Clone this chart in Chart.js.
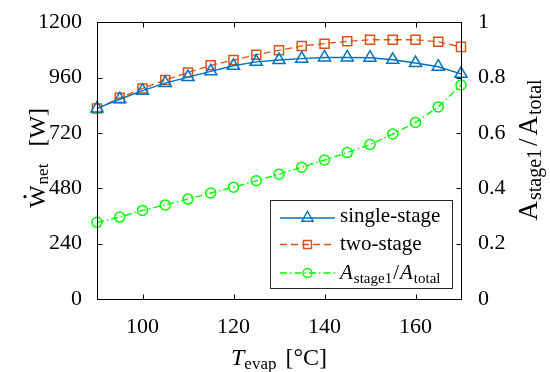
<!DOCTYPE html>
<html>
<head>
<meta charset="utf-8">
<script src="https://cdn.jsdelivr.net/npm/chart.js@4"></script>
<style>
  html, body { margin: 0; padding: 0; background: #fff; }
  #wrap { width: 550px; height: 372px; }
</style>
</head>
<body>
<div id="wrap"><canvas id="ChartWnet" width="550" height="372"></canvas></div>
<script>
// evaporation temperature [°C]
const tEvap = [90, 95, 100, 105, 110, 115, 120, 125, 130, 135, 140, 145, 150, 155, 160, 165, 170];
// net power [W]
const wSingle = [826, 866, 903, 936, 962, 987, 1011, 1028, 1036, 1042, 1047, 1047, 1046, 1037, 1023, 1007, 976];
const wTwo = [826, 872, 913, 949, 982, 1013, 1036, 1059, 1078, 1097, 1107, 1117, 1124, 1124, 1124, 1115, 1093];
// area fraction of stage 1
const areaRatio = [0.277, 0.296, 0.320, 0.340, 0.361, 0.383, 0.404, 0.427, 0.451, 0.476, 0.502, 0.529, 0.558, 0.596, 0.638, 0.694, 0.773];

const xTicks = [100, 120, 140, 160];
const wTicks = [0, 240, 480, 720, 960, 1200];
const ratioTicks = [0, 0.2, 0.4, 0.6, 0.8, 1];

const BLUE = "#0072BD";
const ORANGE = "#D95319";
const GREEN = "#00FF00";
const SERIF = "'Liberation Serif', serif";

Chart.defaults.font.family = SERIF;
Chart.defaults.color = "#000";

const pts = (ys) => tEvap.map((x, i) => ({ x: x, y: ys[i] }));
const tickFont = { family: SERIF, size: 22 };

// draws a run of text pieces (for subscripts) centred on (x, y)
function richText(ctx, parts, x, y, rot) {
  ctx.save();
  ctx.translate(x, y);
  ctx.rotate(rot || 0);
  ctx.textBaseline = "alphabetic";
  ctx.textAlign = "left";
  let total = 0;
  parts.forEach((p) => {
    ctx.font = p.font;
    p.w = ctx.measureText(p.text).width;
    total += p.w + (p.gap || 0);
  });
  let u = -total / 2;
  parts.forEach((p) => {
    ctx.font = p.font;
    ctx.fillText(p.text, u, p.dy || 0);
    if (p.dot) {
      ctx.beginPath();
      ctx.arc(u + p.w / 2, -p.dot, 1.6, 0, Math.PI * 2);
      ctx.fill();
    }
    u += p.w + (p.gap || 0);
  });
  ctx.restore();
}

function marker(ctx, style, x, y, r) {
  ctx.beginPath();
  if (style === "triangle") {
    ctx.moveTo(x, y - r);
    ctx.lineTo(x + r * 0.866, y + r * 0.5);
    ctx.lineTo(x - r * 0.866, y + r * 0.5);
    ctx.closePath();
  } else if (style === "rect") {
    ctx.rect(x - r, y - r, 2 * r, 2 * r);
  } else {
    ctx.arc(x, y, r, 0, Math.PI * 2);
  }
  ctx.stroke();
}

const frame = {
  id: "frame",
  afterDraw(chart) {
    const { ctx, chartArea: a, scales } = chart;
    const L = Math.round(a.left) + 0.5, R = Math.round(a.right) + 0.5;
    const T = Math.round(a.top) + 0.5, B = Math.round(a.bottom) + 0.5;
    ctx.save();
    ctx.strokeStyle = "#000";
    ctx.lineWidth = 1;
    ctx.strokeRect(L, T, R - L, B - T);

    // inward tick marks
    const tl = 5;
    ctx.beginPath();
    xTicks.forEach((v) => {
      const px = Math.round(scales.x.getPixelForValue(v)) + 0.5;
      ctx.moveTo(px, B); ctx.lineTo(px, B - tl);
      ctx.moveTo(px, T); ctx.lineTo(px, T + tl);
    });
    wTicks.forEach((v) => {
      const py = Math.round(scales.y.getPixelForValue(v)) + 0.5;
      ctx.moveTo(L, py); ctx.lineTo(L + tl, py);
    });
    ratioTicks.forEach((v) => {
      const py = Math.round(scales.y2.getPixelForValue(v)) + 0.5;
      ctx.moveTo(R, py); ctx.lineTo(R - tl, py);
    });
    ctx.stroke();

    // axis titles
    ctx.fillStyle = "#000";
    richText(ctx, [
      { text: "T", font: "italic 24px " + SERIF },
      { text: "evap", font: "17px " + SERIF, dy: 4, gap: 9 },
      { text: "[°C]", font: "24px " + SERIF },
    ], (a.left + a.right) / 2, 365, 0);

    richText(ctx, [
      { text: "W", font: "24px " + SERIF, dot: 20, gap: 1 },
      { text: "net", font: "17px " + SERIF, dy: 3, gap: 17 },
      { text: "[W]", font: "24px " + SERIF },
    ], 45, 158, -Math.PI / 2);

    richText(ctx, [
      { text: "A", font: "27px " + SERIF, gap: 1 },
      { text: "stage1", font: "20px " + SERIF, dy: 4, gap: 3 },
      { text: "/", font: "27px " + SERIF, gap: 3 },
      { text: "A", font: "27px " + SERIF, gap: 1 },
      { text: "total", font: "20px " + SERIF, dy: 4 },
    ], 537, 150, -Math.PI / 2);

    // legend
    const bx = 270.5, by = 200.5, bw = 182, bh = 88;
    ctx.fillStyle = "#fff";
    ctx.fillRect(bx, by, bw, bh);
    ctx.strokeStyle = "#262626";
    ctx.strokeRect(bx, by, bw, bh);
    const rows = [
      { color: BLUE, dash: [], style: "triangle", r: 6.5, y: 218 },
      { color: ORANGE, dash: [7, 4], style: "rect", r: 4, y: 244.5 },
      { color: GREEN, dash: [7, 3, 1.5, 3], style: "circle", r: 4.5, y: 273 },
    ];
    rows.forEach((row) => {
      ctx.strokeStyle = row.color;
      ctx.lineWidth = 1.4;
      ctx.setLineDash(row.dash);
      ctx.beginPath();
      ctx.moveTo(280, row.y);
      ctx.lineTo(335, row.y);
      ctx.stroke();
      ctx.setLineDash([]);
      marker(ctx, row.style, 307.5, row.y, row.r);
    });
    ctx.fillStyle = "#000";
    ctx.font = "21px " + SERIF;
    ctx.textBaseline = "alphabetic";
    ctx.textAlign = "left";
    ctx.fillText("single-stage", 340, 222);
    ctx.fillText("two-stage", 340, 250);
    const parts = [
      { text: "A", font: "italic 21px " + SERIF, gap: 1 },
      { text: "stage1", font: "15px " + SERIF, dy: 4, gap: 1 },
      { text: "/", font: "21px " + SERIF, gap: 1 },
      { text: "A", font: "italic 21px " + SERIF, gap: 1 },
      { text: "total", font: "15px " + SERIF, dy: 4 },
    ];
    let w = 0;
    parts.forEach((p) => { ctx.font = p.font; w += ctx.measureText(p.text).width + (p.gap || 0); });
    richText(ctx, parts, 340 + w / 2, 279, 0);
    ctx.restore();
  },
};

const ChartWnet = document.getElementById("ChartWnet");

new Chart(ChartWnet, {
  type: "line",
  data: {
    datasets: [
      {
        label: "single-stage",
        data: pts(wSingle),
        yAxisID: "y",
        borderColor: BLUE,
        borderWidth: 1.4,
        pointStyle: "triangle",
        pointRadius: 7,
        pointBorderColor: BLUE,
        pointBackgroundColor: "rgba(0,0,0,0)",
        pointBorderWidth: 1.5,
        clip: false,
      },
      {
        label: "two-stage",
        data: pts(wTwo),
        yAxisID: "y",
        borderColor: ORANGE,
        borderWidth: 1.3,
        borderDash: [7, 4],
        pointStyle: "rect",
        pointRadius: 6.4,
        pointBorderColor: ORANGE,
        pointBackgroundColor: "rgba(0,0,0,0)",
        pointBorderWidth: 1.5,
        clip: false,
      },
      {
        label: "Astage1/Atotal",
        data: pts(areaRatio),
        yAxisID: "y2",
        borderColor: GREEN,
        borderWidth: 1.4,
        borderDash: [7, 3, 1.5, 3],
        pointStyle: "circle",
        pointRadius: 5,
        pointBorderColor: GREEN,
        pointBackgroundColor: "rgba(0,0,0,0)",
        pointBorderWidth: 1.5,
        clip: false,
      },
    ],
  },
  options: {
    responsive: false,
    animation: false,
    devicePixelRatio: 1,
    layout: { padding: { top: 20, left: 0, right: 0, bottom: 0 } },
    plugins: { legend: { display: false }, tooltip: { enabled: false } },
    elements: { line: { tension: 0 } },
    scales: {
      x: {
        type: "linear",
        min: 90,
        max: 170,
        grid: { display: false },
        border: { display: false },
        afterBuildTicks: (s) => { s.ticks = xTicks.map((v) => ({ value: v })); },
        afterFit: (s) => { s.height = 73; },
        ticks: { font: tickFont, padding: 7, maxRotation: 0, callback: (v) => String(v) },
      },
      y: {
        position: "left",
        min: 0,
        max: 1200,
        grid: { display: false },
        border: { display: false },
        afterBuildTicks: (s) => { s.ticks = wTicks.map((v) => ({ value: v })); },
        afterFit: (s) => { s.width = 97; },
        ticks: { font: tickFont, padding: 7, callback: (v) => String(v) },
      },
      y2: {
        position: "right",
        min: 0,
        max: 1,
        grid: { display: false },
        border: { display: false },
        afterBuildTicks: (s) => { s.ticks = ratioTicks.map((v) => ({ value: v })); },
        afterFit: (s) => { s.width = 89; },
        ticks: { font: tickFont, padding: 9, callback: (v) => String(v) },
      },
    },
  },
  plugins: [frame],
});
</script>
</body>
</html>
